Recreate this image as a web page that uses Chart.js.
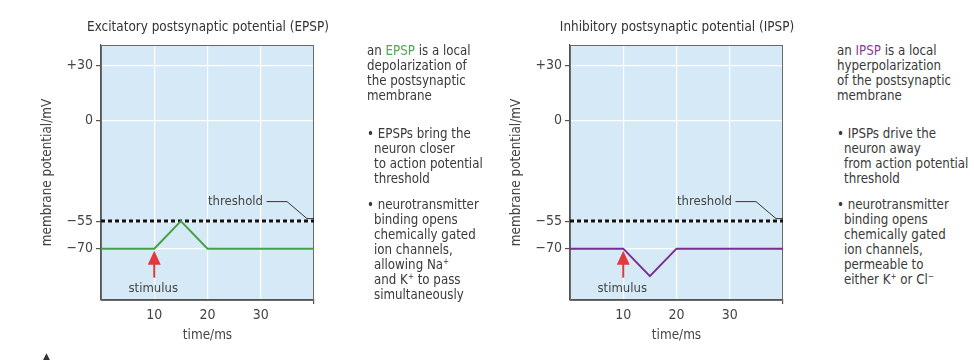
<!DOCTYPE html>
<html>
<head>
<meta charset="utf-8">
<script src="https://cdn.jsdelivr.net/npm/chart.js@4.4.1/dist/chart.umd.min.js"></script>
<style>
  html, body { margin: 0; padding: 0; background: #fff; }
  #page { position: relative; width: 974px; height: 362px; overflow: hidden; }
  .panel { position: absolute; top: 0; width: 330px; height: 362px; }
  .title {
    position: absolute; top: 19px; width: 300px; text-align: center;
    font-family: 'DejaVu Sans Condensed', sans-serif;
    font-size: 13.4px; line-height: 16px; color: #333; white-space: nowrap;
  }
  .note {
    position: absolute;
    font-family: 'DejaVu Sans Condensed', sans-serif;
    font-size: 13.2px;
    line-height: 15px;
    color: #3a3a3a;
    white-space: nowrap;
  }
  .bullet { padding-left: 7px; text-indent: -7px; }
  .note sup { font-size: 8px; line-height: 0; vertical-align: 5px; }
  .green { color: #4fa84f; }
  .purple { color: #8b3a98; }
  .mark { position: absolute; left: 43px; top: 351px; font-size: 9px; color: #333; font-family: 'DejaVu Sans', sans-serif; }
</style>
</head>
<body>
<div id="page">
  <div class="panel" style="left:0px"><canvas id="epsp-chart"></canvas></div>
  <div class="panel" style="left:469px"><canvas id="ipsp-chart"></canvas></div>

  <div class="title" style="left:58px">Excitatory postsynaptic potential (EPSP)</div>
  <div class="title" style="left:527px">Inhibitory postsynaptic potential (IPSP)</div>

  <div class="note" style="left:367px; top:43px">an <span class="green">EPSP</span> is a local<br>depolarization of<br>the postsynaptic<br>membrane</div>
  <div class="note bullet" style="left:367px; top:126px">• EPSPs bring the<br>neuron closer<br>to action potential<br>threshold</div>
  <div class="note bullet" style="left:367px; top:197px">• neurotransmitter<br>binding opens<br>chemically gated<br>ion channels,<br>allowing Na<sup>+</sup><br>and K<sup>+</sup> to pass<br>simultaneously</div>

  <div class="note" style="left:837px; top:43px">an <span class="purple">IPSP</span> is a local<br>hyperpolarization<br>of the postsynaptic<br>membrane</div>
  <div class="note bullet" style="left:837px; top:126px">• IPSPs drive the<br>neuron away<br>from action potential<br>threshold</div>
  <div class="note bullet" style="left:837px; top:197px">• neurotransmitter<br>binding opens<br>chemically gated<br>ion channels,<br>permeable to<br>either K<sup>+</sup> or Cl<sup>−</sup></div>

  <span class="mark">▲</span>
</div>

<script>
// time axis (ms) and membrane potential (mV)
const timeMs = [0, 10, 15, 20, 40];
const epspMv = [-70, -70, -55, -70, -70];
const ipspMv = [-70, -70, -85, -70, -70];

const thresholdTime = [0, 40];
const thresholdMv = [-55, -55];

const yTickValues = [30, 0, -55, -70];
const xTickValues = [0, 10, 20, 30, 40];
const xTickLabels = ['', '10', '20', '30', ''];

const stimulusMs = 10;
const restingMv = -70;

const FONT = "'DejaVu Sans Condensed', sans-serif";
Chart.defaults.font.family = FONT;
Chart.defaults.color = '#444';

const toPoints = (xs, ys) => xs.map((x, i) => ({ x: x, y: ys[i] }));

function formatMv(value) {
  if (value > 0) return '+' + value;
  if (value < 0) return '\u2212' + Math.abs(value);
  return '0';
}

// light blue plot background
const plotBackground = {
  id: 'plotBackground',
  beforeDraw(chart) {
    const { ctx, chartArea: a } = chart;
    ctx.save();
    ctx.fillStyle = '#d5eaf6';
    ctx.fillRect(a.left, a.top, a.right - a.left, a.bottom - a.top);
    ctx.restore();
  }
};

// grey frame round the plot
const plotFrame = {
  id: 'plotFrame',
  beforeDatasetsDraw(chart) {
    const { ctx, chartArea: a } = chart;
    ctx.save();
    ctx.strokeStyle = '#6a6a6a';
    ctx.lineWidth = 1;
    ctx.strokeRect(a.left + 0.5, a.top + 0.5, a.right - a.left - 1, a.bottom - a.top);
    ctx.restore();
  }
};

// stimulus arrow and threshold label
const annotations = {
  id: 'annotations',
  afterDatasetsDraw(chart) {
    const { ctx, scales: { x, y }, chartArea: a } = chart;
    ctx.save();

    // red arrow pointing at the stimulus time
    const ax = x.getPixelForValue(stimulusMs);
    const tipY = y.getPixelForValue(restingMv) + 2;
    const tailY = tipY + 27;
    ctx.strokeStyle = '#e23a3c';
    ctx.fillStyle = '#e23a3c';
    ctx.lineWidth = 2;
    ctx.beginPath();
    ctx.moveTo(ax, tipY + 8);
    ctx.lineTo(ax, tailY);
    ctx.stroke();
    ctx.beginPath();
    ctx.moveTo(ax, tipY);
    ctx.lineTo(ax - 6.5, tipY + 14);
    ctx.lineTo(ax + 6.5, tipY + 14);
    ctx.closePath();
    ctx.fill();

    ctx.fillStyle = '#444';
    ctx.font = '13px ' + FONT;
    ctx.textAlign = 'center';
    ctx.textBaseline = 'middle';
    ctx.fillText('stimulus', ax - 1, y.getPixelForValue(restingMv) + 40);

    // threshold label with leader line
    const ty = y.getPixelForValue(thresholdMv[0]);
    const labelY = ty - 19.5;
    ctx.textAlign = 'right';
    ctx.fillText('threshold', a.right - 51, labelY);
    ctx.strokeStyle = '#333';
    ctx.lineWidth = 1;
    ctx.beginPath();
    ctx.moveTo(a.right - 47.5, labelY);
    ctx.lineTo(a.right - 27, labelY);
    ctx.lineTo(a.right - 7, ty - 2.5);
    ctx.lineTo(a.right, ty - 2.5);
    ctx.stroke();

    ctx.restore();
  }
};

function makeChart(canvasId, potentials, lineColor) {
  return new Chart(document.getElementById(canvasId), {
    type: 'line',
    data: {
      datasets: [
        {
          label: 'threshold',
          data: toPoints(thresholdTime, thresholdMv),
          borderColor: '#111',
          borderWidth: 3,
          borderDash: [4, 3],
          pointRadius: 0,
          order: 2
        },
        {
          label: 'membrane potential',
          data: toPoints(timeMs, potentials),
          borderColor: lineColor,
          borderWidth: 2,
          tension: 0,
          pointRadius: 0,
          order: 1
        }
      ]
    },
    options: {
      responsive: true,
      maintainAspectRatio: false,
      animation: false,
      events: [],
      layout: {
        padding: { left: 0, right: 16, top: 45, bottom: 0 }
      },
      plugins: {
        legend: { display: false },
        tooltip: { enabled: false },
        title: { display: false }
      },
      scales: {
        x: {
          type: 'linear',
          min: 0,
          max: 40,
          afterBuildTicks: (scale) => {
            scale.ticks = xTickValues.map(v => ({ value: v }));
          },
          afterFit: (scale) => {
            scale.height = 62;
          },
          ticks: {
            padding: 3,
            color: '#444',
            font: { size: 14 },
            maxRotation: 0,
            callback: (value) => xTickLabels[xTickValues.indexOf(value)]
          },
          grid: {
            color: '#ffffff',
            lineWidth: 1.2,
            tickLength: 4,
            tickColor: (ctx) => (ctx.tick && ctx.tick.value === 40 ? '#555' : 'rgba(0,0,0,0)')
          },
          border: { display: true, color: '#555', width: 1.2 },
          title: {
            display: true,
            text: 'time/ms',
            color: '#444',
            font: { size: 13.4 },
            padding: { top: 4, bottom: 18 }
          }
        },
        y: {
          type: 'linear',
          min: -98,
          max: 41,
          afterBuildTicks: (scale) => {
            scale.ticks = yTickValues.map(v => ({ value: v }));
          },
          afterFit: (scale) => {
            scale.width = 101;
          },
          ticks: {
            padding: 3,
            color: '#444',
            font: { size: 14 },
            callback: (value) => formatMv(value)
          },
          grid: {
            color: '#ffffff',
            lineWidth: 1.2,
            tickLength: 5,
            tickColor: '#555'
          },
          border: { display: true, color: '#555', width: 1.2 },
          title: {
            display: true,
            text: 'membrane potential/mV',
            color: '#444',
            font: { size: 13.4 },
            padding: { top: 39, bottom: 4 }
          }
        }
      }
    },
    plugins: [plotBackground, plotFrame, annotations]
  });
}

makeChart('epsp-chart', epspMv, '#46a046');
makeChart('ipsp-chart', ipspMv, '#7e2a8e');
</script>
</body>
</html>
